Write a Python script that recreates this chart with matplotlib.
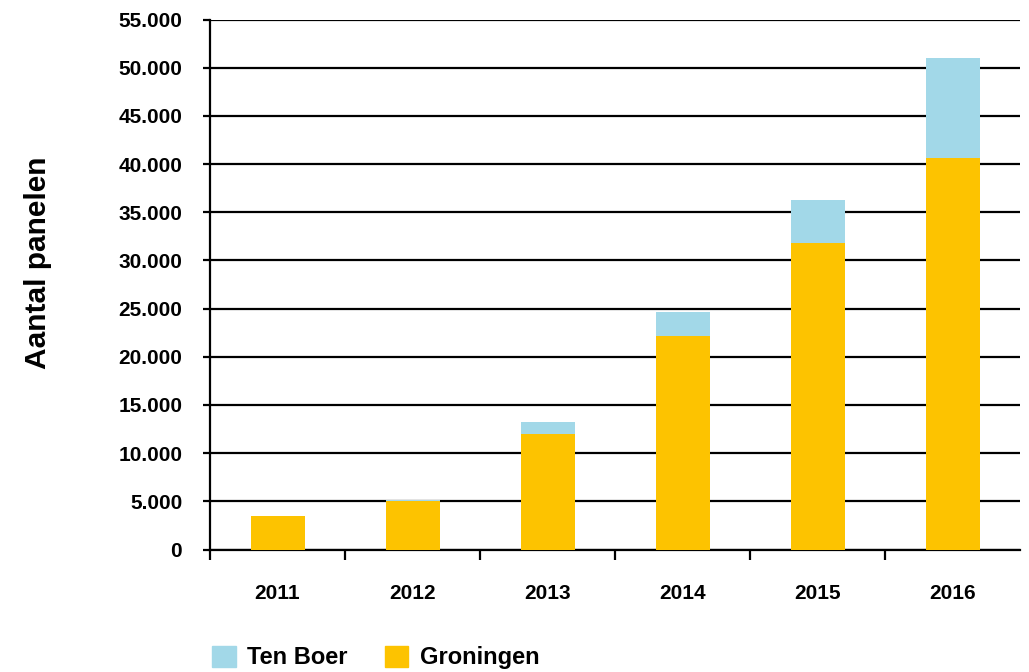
import matplotlib
matplotlib.use("Agg")
import matplotlib.pyplot as plt
from matplotlib.patches import Patch
from matplotlib.ticker import FuncFormatter, FixedLocator

years = ["2011", "2012", "2013", "2014", "2015", "2016"]
groningen = [3450, 5050, 12000, 22200, 31800, 40650]
ten_boer = [0, 80, 1200, 2450, 4450, 10350]

col_tb = "#A2D8E8"
col_gr = "#FDC300"

plt.rcParams['font.family'] = ['Liberation Sans', 'DejaVu Sans']
plt.rcParams['font.weight'] = 'bold'

fig = plt.figure(figsize=(10.29, 6.72), dpi=100)
ax = fig.add_axes([210/1029, 1-549.5/672, (1020-210)/1029, 530/672])

x = list(range(len(years)))
ax.bar(x, groningen, width=0.4, color=col_gr, zorder=3)
ax.bar(x, ten_boer, width=0.4, bottom=groningen, color=col_tb, zorder=3)

ax.set_xlim(-0.5, 5.5)
ax.set_ylim(0, 55000)
ax.set_yticks(range(0, 55001, 5000))
ax.yaxis.set_major_formatter(FuncFormatter(lambda v, p: f"{int(v):,}".replace(",", ".")))
ax.grid(axis='y', color='black', linewidth=1.6)
ax.set_axisbelow(True)

ax.set_xticks(x)
ax.set_xticklabels(years)
ax.xaxis.set_minor_locator(FixedLocator([i - 0.5 for i in range(len(years))]))
ax.tick_params(axis='x', which='major', length=0, pad=24.5, labelsize=15)
ax.tick_params(axis='x', which='minor', length=7, width=1.6, direction='out')
ax.tick_params(axis='y', length=5, width=1.6, direction='out', pad=15, labelsize=15)

for s in ['top', 'right']:
    ax.spines[s].set_visible(False)
for s in ['left', 'bottom']:
    ax.spines[s].set_linewidth(1.6)

ax.set_ylabel("Aantal panelen", fontsize=21.5, fontweight='bold')
ax.yaxis.set_label_coords(-0.1955, 0.5415)

handles = [Patch(color=col_tb, label="Ten Boer"), Patch(color=col_gr, label="Groningen")]
fig.legend(handles=handles, loc='upper left', bbox_to_anchor=(212/1029, 1-645.5/672),
           ncol=2, frameon=False, handlelength=1.0, handleheight=1.0,
           handletextpad=0.5, columnspacing=1.55, borderpad=0, borderaxespad=0,
           prop={'weight': 'bold', 'size': 17})

fig.savefig("out.png", dpi=100)
